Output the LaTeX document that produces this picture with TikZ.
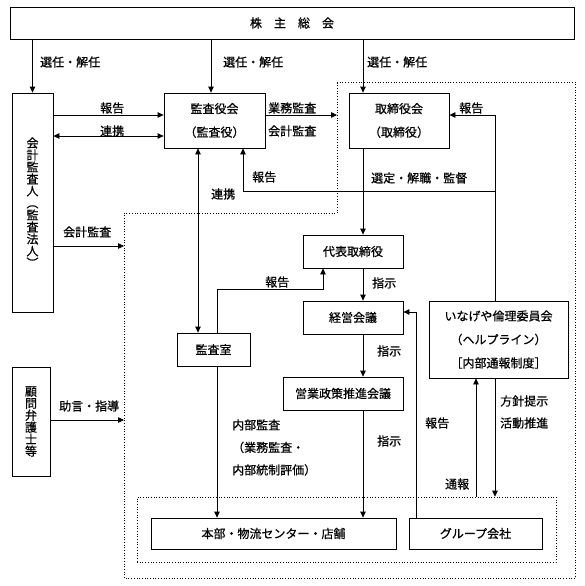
\documentclass[tikz,border=0pt]{standalone}
\usepackage{fontspec}
\setmainfont{Noto Sans CJK JP}[FakeBold=0.6]
\usetikzlibrary{arrows.meta}
\begin{document}
\begin{tikzpicture}[x=1pt,y=-1pt,
  box/.style={draw, line width=0.8pt, rectangle, inner sep=0pt, align=center, font=\fontsize{12}{23.5}\selectfont},
  vbox/.style={draw, line width=0.8pt, rectangle, inner sep=0pt, align=center, font=\fontsize{12}{12}\selectfont},
  lbl/.style={anchor=west, inner sep=0pt, align=left, font=\fontsize{12}{22.5}\selectfont},
  arr/.style={line width=0.8pt, -{Triangle[length=6pt,width=5.5pt]}},
  dbl/.style={line width=0.8pt, {Triangle[length=6pt,width=5.5pt]}-{Triangle[length=6pt,width=5.5pt]}},
  dotbox/.style={line width=0.7pt, dotted}
]
\useasboundingbox (0,0) rectangle (584,586);

% boxes
\node[box, minimum width=564pt, minimum height=32pt] (sh) at (292,23) {株　主　総　会};
\node[vbox, minimum width=41pt, minimum height=219pt] (auditor) at (32.5,202.5) {会\\計\\監\\査\\人\\︵\\監\\査\\法\\人\\︶};
\node[box, minimum width=101pt, minimum height=55pt] (kansa) at (214.5,120.5) {監査役会\\（監査役）};
\node[box, minimum width=100pt, minimum height=55pt] (tori) at (399,120.5) {取締役会\\（取締役）};
\node[box, minimum width=100pt, minimum height=33pt] (daihyo) at (353,251.5) {代表取締役};
\node[box, minimum width=100pt, minimum height=33pt] (keiei) at (353,317.5) {経営会議};
\node[box, minimum width=120pt, minimum height=33pt] (eigyo) at (343,393.5) {営業政策推進会議};
\node[box, minimum width=73pt, minimum height=33pt] (kansashitsu) at (213.5,349.5) {監査室};
\node[box, minimum width=139pt, minimum height=77pt] (inageya) at (498.5,339.5) {いなげや倫理委員会\\（ヘルプライン）\\［内部通報制度］};
\node[vbox, minimum width=38pt, minimum height=109pt] (komon) at (31,421.5) {顧\\問\\弁\\護\\士\\等};
\node[dotbox, draw, rectangle, inner sep=0pt, minimum width=419pt, minimum height=65pt] (inner) at (346.5,529.5) {};
\node[box, minimum width=245pt, minimum height=31pt] (honbu) at (273.5,533.5) {本部・物流センター・店舗};
\node[box, minimum width=133pt, minimum height=31pt] (group) at (475.5,533.5) {グループ会社};

% outer dotted region
\coordinate (o1) at (337,82);
\coordinate (o2) at (575,82);
\coordinate (o3) at (575,578);
\coordinate (o4) at (124,578);
\coordinate (o5) at (124,213);
\coordinate (o6) at (337,213);
\draw[dotbox] (o1) -- (o2) -- (o3) -- (o4) -- (o5) -- (o6) -- cycle;

% helper coordinates
\coordinate (vK) at (211,0);
\coordinate (vT) at (363,0);
\coordinate (hR) at (0,115);
\coordinate (hL) at (0,136);
\coordinate (vL) at (198,0);
\coordinate (vH) at (243,0);
\coordinate (hS) at (0,191);
\coordinate (vE) at (495,0);
\coordinate (vA) at (217,0);
\coordinate (hA) at (0,289);
\coordinate (vD) at (323,0);
\coordinate (vG) at (416,0);
\coordinate (hG) at (0,312);
\coordinate (vN) at (476,0);
\coordinate (hKA) at (0,246);
\coordinate (hJ) at (0,420);

% connectors
\draw[arr] (sh.south -| auditor.north) -- (auditor.north);
\draw[arr] (sh.south -| vK) -- (kansa.north -| vK);
\draw[arr] (sh.south -| vT) -- (tori.north -| vT);
\draw[arr] (auditor.east |- hR) -- (kansa.west |- hR);
\draw[dbl] (auditor.east |- hL) -- (kansa.west |- hL);
\draw[arr] (kansa.east |- hR) -- (o1 |- hR);
\draw[arr] (inageya.north -| vE) -- (vE |- hR) -- (tori.east |- hR);
\draw[arr] (vE |- hS) -- (vH |- hS) -- (kansa.south -| vH);
\draw[dbl] (kansa.south -| vL) -- (kansashitsu.north -| vL);
\draw[arr] (tori.south -| vT) -- (daihyo.north -| vT);
\draw[arr] (daihyo.south -| vT) -- (keiei.north -| vT);
\draw[arr] (keiei.south -| vT) -- (eigyo.north -| vT);
\draw[arr] (eigyo.south -| vT) -- (honbu.north -| vT);
\draw[arr] (kansashitsu.north -| vA) -- (vA |- hA) -- (vD |- hA) -- (daihyo.south -| vD);
\draw[arr] (kansashitsu.south -| vA) -- (honbu.north -| vA);
\draw[arr] (group.north -| vG) -- (vG |- hG) -- (keiei.east |- hG);
\draw[arr] (inner.north -| vN) -- (inageya.south -| vN);
\draw[arr] (inageya.south -| vE) -- (inner.north -| vE);
\draw[arr] (auditor.east |- hKA) -- (o5 |- hKA);
\draw[arr] (komon.east |- hJ) -- (o5 |- hJ);

% labels
\node[lbl] (l1) at (40,62) {選任・解任};
\node[lbl] (l2) at (223,62) {選任・解任};
\node[lbl] (l3) at (367,62) {選任・解任};
\node[lbl] (l4) at (100,108) {報告};
\node[lbl] (l5) at (100,131) {連携};
\node[lbl] (l6) at (268,108) {業務監査};
\node[lbl] (l7) at (268,131) {会計監査};
\node[lbl] (l8) at (459,108) {報告};
\node[lbl] (l9) at (252,177) {報告};
\node[lbl] (l10) at (371,178) {選定・解職・監督};
\node[lbl] (l11) at (211,194) {連携};
\node[lbl] (l12) at (63,232) {会計監査};
\node[lbl] (l13) at (265,282) {報告};
\node[lbl] (l14) at (372,283) {指示};
\node[lbl] (l15) at (377,351) {指示};
\node[lbl] (l16) at (59,406) {助言・指導};
\node[lbl] (l17) at (232,447.5) {内部監査\\（業務監査・\\内部統制評価）};
\node[lbl] (l18) at (425,423) {報告};
\node[lbl, font=\fontsize{12}{22}\selectfont] (l19) at (500,412) {方針提示\\活動推進};
\node[lbl] (l20) at (377,441) {指示};
\node[lbl] (l21) at (445,484) {通報};
\end{tikzpicture}
\end{document}
